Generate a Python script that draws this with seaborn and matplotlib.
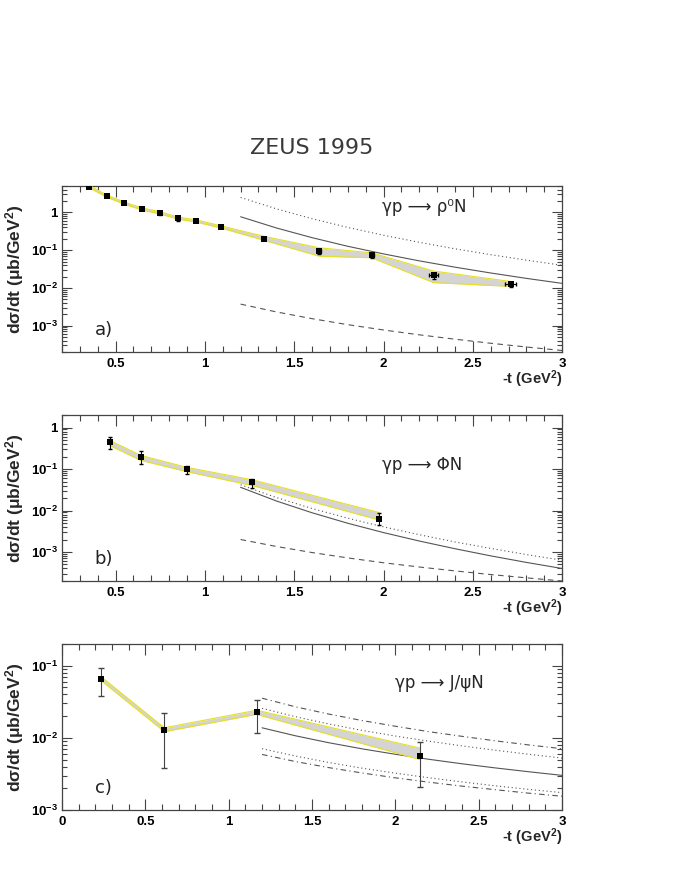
import numpy as np
import seaborn as sns
import matplotlib
matplotlib.use("Agg")
from matplotlib import pyplot as plt
from matplotlib.ticker import FixedLocator, LogLocator, MultipleLocator, FuncFormatter, NullFormatter

# ---- panel a: gamma p -> rho0 N ----
t_rho = [0.353, 0.45, 0.547, 0.648, 0.747, 0.848, 0.95, 1.092, 1.333, 1.639, 1.934, 2.281, 2.712]
s_rho = [4.8, 2.7, 1.77, 1.23, 0.98, 0.71, 0.60, 0.41, 0.197, 0.094, 0.074, 0.0216, 0.0126]
err_rho_lo = [0.3, 0.12, 0.09, 0.07, 0.12, 0.12, 0.04, 0.03, 0.012, 0.016, 0.01, 0.004, 0.002]
err_rho_hi = [0.3, 0.12, 0.09, 0.07, 0.08, 0.06, 0.04, 0.03, 0.012, 0.012, 0.008, 0.003, 0.0015]
xerr_rho = [0, 0, 0, 0, 0, 0, 0, 0, 0, 0.01, 0.01, 0.025, 0.03]
band_rho_hi = [5.2, 2.9, 1.9, 1.32, 1.05, 0.76, 0.64, 0.44, 0.232, 0.116, 0.085, 0.028, 0.0148]
band_rho_lo = [4.5, 2.55, 1.67, 1.16, 0.92, 0.67, 0.56, 0.385, 0.182, 0.0695, 0.063, 0.0138, 0.011]

t_th = [1.2, 1.4, 1.6, 1.8, 2.0, 2.2, 2.4, 2.6, 2.8, 3.0]
rho_dot = [2.51, 1.25, 0.684, 0.402, 0.249, 0.162, 0.109, 0.0762, 0.0545, 0.0398]
rho_sol = [0.771, 0.389, 0.215, 0.127, 0.0798, 0.0522, 0.0355, 0.0249, 0.0179, 0.0132]
rho_dash = [3.72e-3, 2.31e-3, 1.53e-3, 1.06e-3, 7.67e-4, 5.71e-4, 4.37e-4, 3.41e-4, 2.71e-4, 2.19e-4]

# ---- panel b: gamma p -> phi N ----
t_phi = [0.467, 0.641, 0.898, 1.266, 1.977]
s_phi = [0.44, 0.195, 0.10, 0.048, 0.0063]
err_phi_top = [0.58, 0.267, 0.12, 0.057, 0.0086]
err_phi_bot = [0.305, 0.132, 0.077, 0.035, 0.0045]
band_phi_hi = [0.49, 0.214, 0.11, 0.055, 0.0089]
band_phi_lo = [0.37, 0.162, 0.087, 0.040, 0.0059]

phi_dot = [0.0417, 0.0206, 0.0112, 6.53e-3, 4.04e-3, 2.61e-3, 1.75e-3, 1.22e-3, 8.67e-4, 6.34e-4]
phi_sol = [0.0363, 0.0170, 8.83e-3, 4.93e-3, 2.94e-3, 1.84e-3, 1.20e-3, 8.07e-4, 5.61e-4, 4.00e-4]
phi_dash = [2.0e-3, 1.36e-3, 9.7e-4, 7.2e-4, 5.5e-4, 4.35e-4, 3.5e-4, 2.86e-4, 2.38e-4, 2.0e-4]

# ---- panel c: gamma p -> J/psi N ----
t_psi = [0.236, 0.614, 1.167, 2.149]
s_psi = [0.066, 0.013, 0.0228, 0.0056]
err_psi_top = [0.094, 0.0224, 0.0333, 0.0089]
err_psi_bot = [0.038, 0.00385, 0.0117, 0.0021]
band_psi_hi = [0.070, 0.0138, 0.0242, 0.0072]
band_psi_lo = [0.062, 0.0122, 0.0212, 0.0050]

psi_dd_hi = [0.0355, 0.0270, 0.0214, 0.0174, 0.0145, 0.0122, 0.0105, 9.1e-3, 7.98e-3, 7.08e-3]
psi_dot_hi = [0.0257, 0.0197, 0.0156, 0.0127, 0.0106, 9.0e-3, 7.74e-3, 6.74e-3, 5.93e-3, 5.25e-3]
psi_sol = [0.0138, 0.0107, 8.57e-3, 7.05e-3, 5.92e-3, 5.05e-3, 4.37e-3, 3.83e-3, 3.39e-3, 3.02e-3]
psi_dot_lo = [7.08e-3, 5.6e-3, 4.56e-3, 3.8e-3, 3.24e-3, 2.8e-3, 2.45e-3, 2.16e-3, 1.93e-3, 1.74e-3]
psi_dd_lo = [5.89e-3, 4.7e-3, 3.87e-3, 3.26e-3, 2.79e-3, 2.43e-3, 2.14e-3, 1.91e-3, 1.71e-3, 1.55e-3]

sns.set_theme(style="ticks")
plt.rcParams['font.family'] = ['Liberation Sans', 'DejaVu Sans']
plt.rcParams['font.weight'] = 'bold'
plt.rcParams['mathtext.fontset'] = 'custom'
plt.rcParams['mathtext.rm'] = 'Liberation Sans:bold'
plt.rcParams['mathtext.bf'] = 'Liberation Sans:bold'
plt.rcParams['mathtext.default'] = 'rm'

AX = '#444444'
TH = '#555555'
BAND = '#d4d4d4'
YEL = '#e8e020'


def log_fmt(v, pos):
    if abs(v - 1) < 1e-9:
        return '1'
    return r'$10^{%d}$' % int(round(np.log10(v)))


def style_axes(ax, xlim, ylim, majors):
    ax.set_yscale('log')
    ax.set_xlim(xlim)
    ax.set_ylim(ylim)
    ax.xaxis.set_major_locator(MultipleLocator(0.5))
    ax.xaxis.set_minor_locator(MultipleLocator(0.1))
    ax.xaxis.set_major_formatter(FuncFormatter(lambda v, p: '%g' % v))
    ax.yaxis.set_major_locator(FixedLocator(majors))
    ax.yaxis.set_minor_locator(LogLocator(base=10, subs=np.arange(2, 10)))
    ax.yaxis.set_minor_formatter(NullFormatter())
    ax.yaxis.set_major_formatter(FuncFormatter(log_fmt))
    ax.tick_params(axis='both', which='both', direction='in', top=True, right=True,
                   color=AX, width=0.8, labelsize=9.5, labelcolor='black')
    ax.tick_params(axis='x', which='major', length=8, pad=4)
    ax.tick_params(axis='x', which='minor', length=4.5)
    ax.tick_params(axis='y', which='major', length=7, pad=3)
    ax.tick_params(axis='y', which='minor', length=3.5)
    ax.tick_params(axis='y', which='both', labelright=False)
    for sp in ax.spines.values():
        sp.set_color(AX)
        sp.set_linewidth(0.9)
    ax.set_xlabel('')
    ax.set_ylabel('')
    ax.text(1.0, -0.098, r'-t (GeV$^{2}$)', transform=ax.transAxes, ha='right', va='top',
            fontsize=10.5, fontweight='bold')


def draw_band(ax, t, lo, hi):
    ax.fill_between(t, lo, hi, color=BAND, lw=0, zorder=2)
    sns.lineplot(x=t, y=hi, ax=ax, color=YEL, lw=0.8, zorder=3)
    sns.lineplot(x=t, y=lo, ax=ax, color=YEL, lw=0.8, zorder=3)


def draw_curve(ax, y, ls):
    sns.lineplot(x=t_th, y=y, ax=ax, color=TH, lw=0.8, linestyle=ls, zorder=1)


fig = plt.figure(figsize=(6.74, 8.73), dpi=100)
fig.text(0.462, 0.831, 'ZEUS 1995', ha='center', va='center', fontsize=16,
         family='DejaVu Sans', fontweight='normal', color='#3a3a3a')

ylab = r'd$\sigma$/dt ($\mu$b/GeV$^{2}$)'
W = 0.742
L = 0.092
H = 0.190

# panel a
ax1 = fig.add_axes([L, 0.5968, W, H])
draw_curve(ax1, rho_dot, (0, (1, 2.5)))
draw_curve(ax1, rho_sol, '-')
draw_curve(ax1, rho_dash, (0, (5, 4)))
draw_band(ax1, t_rho, band_rho_lo, band_rho_hi)
ax1.errorbar(t_rho, s_rho, yerr=[err_rho_lo, err_rho_hi], xerr=xerr_rho, fmt='none',
             ecolor='black', elinewidth=0.8, capsize=1.5, zorder=4)
sns.scatterplot(x=t_rho, y=s_rho, ax=ax1, marker='s', s=22, color='black',
                edgecolor='black', linewidth=0, zorder=5)
style_axes(ax1, (0.2, 3.0), (2e-4, 5.0), [1e-3, 1e-2, 1e-1, 1])
ax1.text(0.065, 0.13, 'a)', transform=ax1.transAxes, fontsize=13, family='DejaVu Sans',
         fontweight='normal', va='center', color='#222222')
ax1.text(0.64, 0.875, 'γp ⟶ ρ⁰N', transform=ax1.transAxes, fontsize=12,
         family='DejaVu Sans', fontweight='normal', va='center')

# panel b
ax2 = fig.add_axes([L, 0.3345, W, H])
draw_curve(ax2, phi_dot, (0, (1, 2.5)))
draw_curve(ax2, phi_sol, '-')
draw_curve(ax2, phi_dash, (0, (5, 4)))
draw_band(ax2, t_phi, band_phi_lo, band_phi_hi)
ax2.errorbar(t_phi, s_phi,
             yerr=[np.array(s_phi) - np.array(err_phi_bot), np.array(err_phi_top) - np.array(s_phi)],
             fmt='none', ecolor='black', elinewidth=0.8, capsize=1.5, zorder=4)
sns.scatterplot(x=t_phi, y=s_phi, ax=ax2, marker='s', s=22, color='black',
                edgecolor='black', linewidth=0, zorder=5)
style_axes(ax2, (0.2, 3.0), (2e-4, 2.0), [1e-3, 1e-2, 1e-1, 1])
ax2.text(0.065, 0.13, 'b)', transform=ax2.transAxes, fontsize=13, family='DejaVu Sans',
         fontweight='normal', va='center', color='#222222')
ax2.text(0.64, 0.70, 'γp ⟶ ΦN', transform=ax2.transAxes, fontsize=12,
         family='DejaVu Sans', fontweight='normal', va='center')

# panel c
ax3 = fig.add_axes([L, 0.0722, W, H])
draw_curve(ax3, psi_dd_hi, (0, (5, 3, 1, 3)))
draw_curve(ax3, psi_dot_hi, (0, (1, 2.5)))
draw_curve(ax3, psi_sol, '-')
draw_curve(ax3, psi_dot_lo, (0, (1, 2.5)))
draw_curve(ax3, psi_dd_lo, (0, (5, 3, 1, 3)))
draw_band(ax3, t_psi, band_psi_lo, band_psi_hi)
ax3.errorbar(t_psi, s_psi,
             yerr=[np.array(s_psi) - np.array(err_psi_bot), np.array(err_psi_top) - np.array(s_psi)],
             fmt='none', ecolor='#444444', elinewidth=0.8, capsize=2.5, zorder=4)
sns.scatterplot(x=t_psi, y=s_psi, ax=ax3, marker='s', s=22, color='black',
                edgecolor='black', linewidth=0, zorder=5)
style_axes(ax3, (0.0, 3.0), (1e-3, 0.2), [1e-3, 1e-2, 1e-1])
ax3.text(0.065, 0.13, 'c)', transform=ax3.transAxes, fontsize=13, family='DejaVu Sans',
         fontweight='normal', va='center', color='#222222')
ax3.text(0.665, 0.765, 'γp ⟶ J/ψN', transform=ax3.transAxes, fontsize=12,
         family='DejaVu Sans', fontweight='normal', va='center')

for ax in (ax1, ax2, ax3):
    pos = ax.get_position()
    fig.text(0.021, pos.y0 + pos.height / 2, ylab, rotation=90, ha='center', va='center',
             fontsize=12.5, fontweight='bold')

plt.savefig('out.png', dpi=100)
